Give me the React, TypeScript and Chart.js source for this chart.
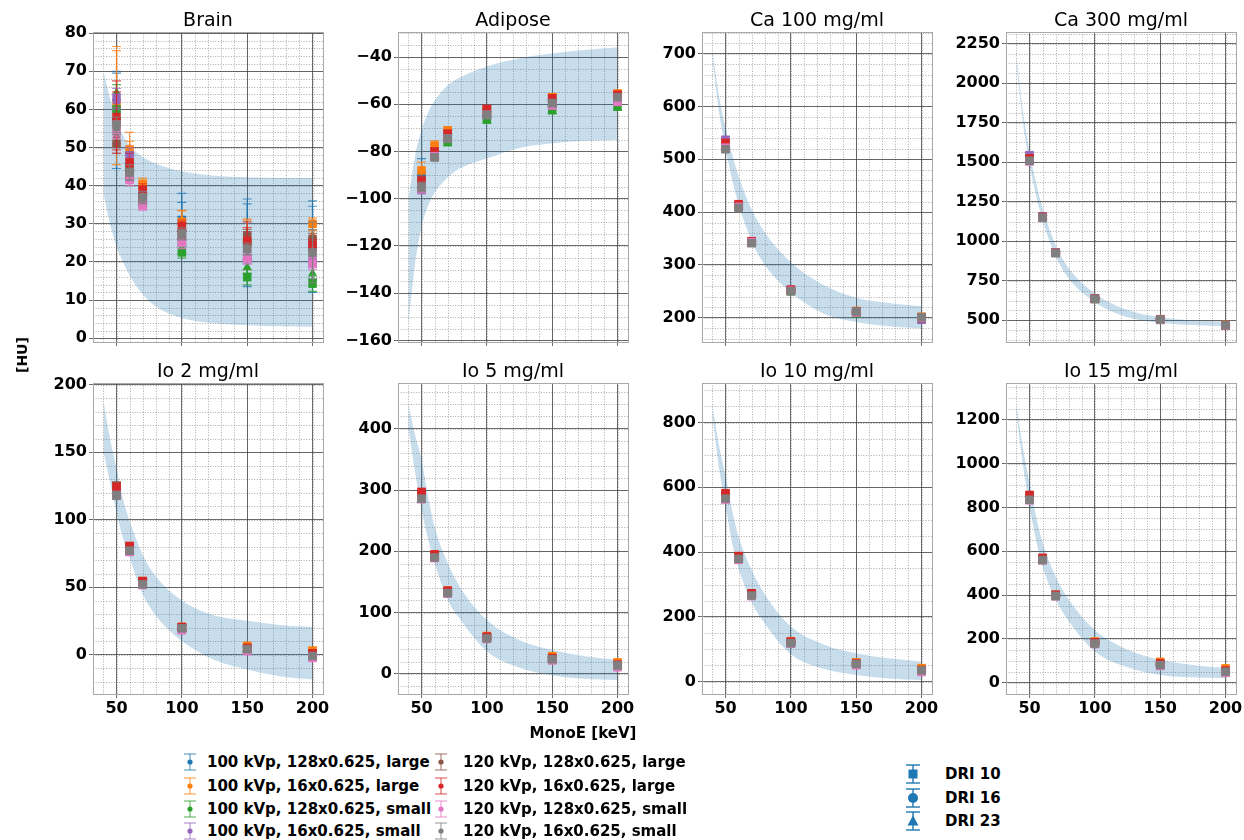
import React, { useEffect, useRef } from "react";
import { Chart, registerables } from "chart.js";

Chart.register(...registerables);
Chart.defaults.font.family = "DejaVu Sans";

// ---------- shared data ----------
const energies = [50, 60, 70, 100, 150, 200];
const bandX = [40, 45, 50, 55, 60, 70, 80, 100, 125, 150, 175, 200];
const xTicks = [50, 100, 150, 200];

const seriesLabels = [
  "100 kVp, 128x0.625, large",
  "100 kVp, 16x0.625, large",
  "100 kVp, 128x0.625, small",
  "100 kVp, 16x0.625, small",
  "120 kVp, 128x0.625, large",
  "120 kVp, 16x0.625, large",
  "120 kVp, 128x0.625, small",
  "120 kVp, 16x0.625, small",
];
const seriesColors = ["#1f77b4", "#ff7f0e", "#2ca02c", "#9467bd", "#8c564b", "#d62728", "#e377c2", "#7f7f7f"];
const driLabels = ["DRI 10", "DRI 16", "DRI 23"];

// ---------- Brain ----------
const brainSquares = [
  [57, 45, 37, 31, 25, 24],
  [61, 49.5, 40.5, 30.5, 24.5, 30],
  [60, 44, 36, 22.5, 16, 14.3],
  [63, 48, 36.5, 27, 21, 20],
  [51, 42, 36, 26.5, 27, 26],
  [58, 46, 39, 29.5, 25.5, 24.5],
  [55, 41.5, 35, 25, 21, 19.5],
  [56, 43.5, 37, 27.5, 23.5, 22.5],
];
const brainTriangles = [
  [60, 46, 38, 30, 26, 25],
  [63, 48, 40, 31, 26, 27],
  [64.5, 45, 37, 23.5, 18.7, 17],
  [62, 47, 37, 27, 22, 21],
  [53, 43, 36, 27, 26, 25],
  [57, 45, 38, 29, 25, 24],
  [54, 42, 35, 25.5, 21.5, 20],
  [55, 43, 36.5, 27, 23, 22],
];
const brainErrors = [
  [12.5, 3, 2, 7, 11.5, 12],
  [15.5, 4.5, 1.5, 3, 6.5, 1.5],
  [2.5, 2, 1.5, 1.5, 2, 2],
  [2.5, 2, 1.5, 1.5, 1.5, 1.5],
  [2.5, 2, 1.5, 1.5, 1.5, 1.5],
  [9.5, 2.5, 1.5, 1.5, 5, 1.5],
  [2, 1.5, 1.5, 1.5, 1.5, 1.5],
  [2, 2, 1.5, 1.5, 1.5, 8],
];
const brainUpper = [70, 63, 57, 53, 50.5, 47.5, 45.8, 43.8, 42.6, 42.2, 42, 42];
const brainLower = [38, 30, 24, 20, 16.5, 11.5, 8.3, 5.3, 3.9, 3.4, 3.1, 3];
const brainTicks = [0, 10, 20, 30, 40, 50, 60, 70, 80];

// ---------- Adipose ----------
const adiposeSquares = [
  [-90, -80, -73, -63, -58.5, -57],
  [-88, -77.5, -71, -62.5, -57, -55.5],
  [-95, -81.5, -76, -66.5, -62.5, -61],
  [-96, -81, -74.5, -64.5, -60, -58.5],
  [-94, -81.5, -74, -63.5, -59, -57],
  [-92.5, -80, -72.5, -62, -57.5, -56],
  [-95.5, -82, -74.5, -64.5, -60.5, -59],
  [-95, -82.5, -74.5, -64.5, -59.5, -57],
];
const adiposeErrors = [
  [7, 3, 2, 2, 2, 2],
  [3.5, 2, 1.5, 1.5, 1.5, 1.5],
  [2, 1.5, 1.5, 1.5, 1.5, 1.5],
  [2, 1.5, 1.5, 1.5, 1.5, 1.5],
  [2, 1.5, 1.5, 1.5, 1.5, 1.5],
  [2, 1.5, 1.5, 1.5, 1.5, 1.5],
  [2, 1.5, 1.5, 1.5, 1.5, 1.5],
  [2, 1.5, 1.5, 1.5, 1.5, 1.5],
];
const adiposeUpper = [-100, -82, -71, -63.5, -58.5, -52, -48.5, -44, -40.5, -38.5, -37, -36];
const adiposeLower = [-153, -128, -112, -103, -97.5, -91, -87, -83, -78.5, -76.5, -75.5, -75];
const adiposeTicks = [-160, -140, -120, -100, -80, -60, -40];

// ---------- Ca 100 mg/ml ----------
const ca100Squares = [
  [528, 412, 343, 252, 210, 199],
  [530, 413, 344, 253, 213, 202],
  [525, 411, 342, 250, 208, 199],
  [537, 413, 344, 253, 211, 196],
  [523, 410, 342, 251, 210, 199],
  [531, 415, 345, 253, 212, 201],
  [522, 410, 343, 251, 210, 200],
  [519, 408, 341, 250, 212, 201],
];
const ca100Errors = [6, 4, 3, 3, 3, 3];
const ca100Upper = [705, 620, 560, 510, 468, 405, 362, 305, 262, 238, 228, 222];
const ca100Lower = [690, 590, 520, 462, 415, 345, 300, 248, 208, 192, 184, 180];
const ca100Ticks = [200, 300, 400, 500, 600, 700];

// ---------- Ca 300 mg/ml ----------
const ca300Squares = [
  [1520, 1152, 928, 637, 505, 470],
  [1515, 1150, 930, 640, 508, 472],
  [1510, 1148, 926, 635, 503, 468],
  [1545, 1158, 930, 638, 505, 468],
  [1512, 1150, 927, 636, 504, 469],
  [1525, 1155, 930, 638, 506, 470],
  [1505, 1148, 926, 635, 503, 468],
  [1510, 1150, 927, 636, 505, 470],
];
const ca300Errors = [18, 12, 8, 6, 6, 6];
const ca300Upper = [2170, 1820, 1570, 1370, 1210, 975, 830, 670, 565, 520, 500, 492];
const ca300Lower = [2120, 1750, 1490, 1290, 1130, 905, 765, 615, 520, 485, 470, 462];
const ca300Ticks = [500, 750, 1000, 1250, 1500, 1750, 2000, 2250];

// ---------- Io 2 mg/ml ----------
const io2Squares = [
  [120, 78, 53, 19.5, 4, 0],
  [124, 80, 54.5, 20.5, 6.5, 3],
  [119, 77, 52.5, 19, 3.5, -1],
  [121, 78, 53, 20, 4.5, 0.5],
  [125, 79, 54, 20, 4, 0],
  [124, 80.5, 54.5, 20.5, 5, 1],
  [118, 76, 51.5, 18, 2.5, -2.5],
  [118, 77, 52, 19.5, 4, -1],
];
const io2Errors = [3, 2.5, 2, 2, 2, 2];
const io2Upper = [188, 160, 138, 115, 99, 74, 58, 40, 29, 25, 22, 20.5];
const io2Lower = [150, 128, 105, 86, 72, 45, 29, 10, -4, -11, -16, -18.5];
const io2Ticks = [0, 50, 100, 150, 200];

// ---------- Io 5 mg/ml ----------
const io5Squares = [
  [290, 192, 133, 59, 24, 14],
  [293, 195, 136, 62, 29, 19],
  [288, 191, 132, 58, 23, 13],
  [291, 193, 134, 60, 25, 15],
  [292, 193, 134, 60, 24, 14],
  [297, 195, 136, 61, 26, 15],
  [285, 189, 131, 57, 22, 11],
  [286, 190, 132, 58, 24, 14],
];
const io5Errors = [5, 4, 3, 3, 3, 3];
const io5Upper = [440, 390, 350, 290, 240, 181, 140, 88, 55, 39, 29, 23];
const io5Lower = [400, 330, 268, 220, 181, 121, 88, 37, 10, -2, -8, -10];
const io5Ticks = [0, 100, 200, 300, 400];

// ---------- Io 10 mg/ml ----------
const io10Squares = [
  [570, 382, 268, 120, 55, 35],
  [575, 386, 272, 125, 60, 42],
  [565, 379, 266, 118, 53, 33],
  [572, 383, 269, 121, 55, 34],
  [573, 384, 270, 121, 55, 35],
  [582, 388, 273, 124, 57, 36],
  [562, 376, 264, 117, 51, 30],
  [565, 379, 266, 119, 55, 35],
];
const io10Errors = [8, 6, 5, 4, 4, 4];
const io10Upper = [850, 730, 635, 530, 448, 345, 270, 170, 115, 88, 72, 62];
const io10Lower = [820, 660, 545, 430, 350, 245, 180, 85, 40, 21, 10, 5];
const io10Ticks = [0, 200, 400, 600, 800];

// ---------- Io 15 mg/ml ----------
const io15Squares = [
  [840, 563, 397, 180, 82, 52],
  [848, 568, 400, 188, 95, 65],
  [835, 560, 395, 178, 78, 48],
  [842, 564, 398, 181, 84, 50],
  [845, 566, 398, 182, 85, 52],
  [857, 570, 402, 184, 88, 55],
  [832, 558, 394, 176, 76, 45],
  [835, 560, 396, 178, 80, 50],
];
const io15Errors = [12, 8, 6, 5, 5, 5];
const io15Upper = [1270, 1070, 915, 760, 640, 485, 380, 240, 150, 104, 80, 66];
const io15Lower = [1230, 990, 805, 650, 530, 378, 280, 142, 70, 35, 24, 20];
const io15Ticks = [0, 200, 400, 600, 800, 1000, 1200];

// ---------- layout ----------
const COL_LEFT = [93, 398, 702, 1006];
const ROW_TOP = [32, 383];
const ROW_PLOT_H = [310, 311];
const PLOT_W = 230;
const Y_AXIS_W = 70;
const TITLE_H = 20;
const PAD_RIGHT = 10;
const X_AXIS_H = [6, 30];
const PAD_BOTTOM = [6, 0];

const BAND = "rgba(31,119,180,0.25)";
const MAJOR = "rgba(70,70,70,0.8)";

type PanelCfg = {
  title: string;
  sq: number[][];
  tri?: number[][];
  err: number[][] | number[];
  up: number[];
  lo: number[];
  yMin: number;
  yMax: number;
  yTicks: number[];
  yMinor: number;
  row: number;
  col: number;
};

const panels: PanelCfg[] = [
  { title: "Brain", sq: brainSquares, tri: brainTriangles, err: brainErrors, up: brainUpper, lo: brainLower, yMin: -1, yMax: 80.3, yTicks: brainTicks, yMinor: 2, row: 0, col: 0 },
  { title: "Adipose", sq: adiposeSquares, err: adiposeErrors, up: adiposeUpper, lo: adiposeLower, yMin: -160.7, yMax: -29.4, yTicks: adiposeTicks, yMinor: 5, row: 0, col: 1 },
  { title: "Ca 100 mg/ml", sq: ca100Squares, err: ca100Errors, up: ca100Upper, lo: ca100Lower, yMin: 154, yMax: 741, yTicks: ca100Ticks, yMinor: 20, row: 0, col: 2 },
  { title: "Ca 300 mg/ml", sq: ca300Squares, err: ca300Errors, up: ca300Upper, lo: ca300Lower, yMin: 363, yMax: 2324, yTicks: ca300Ticks, yMinor: 62.5, row: 0, col: 3 },
  { title: "Io 2 mg/ml", sq: io2Squares, err: io2Errors, up: io2Upper, lo: io2Lower, yMin: -29.2, yMax: 201.2, yTicks: io2Ticks, yMinor: 10, row: 1, col: 0 },
  { title: "Io 5 mg/ml", sq: io5Squares, err: io5Errors, up: io5Upper, lo: io5Lower, yMin: -32.7, yMax: 474.6, yTicks: io5Ticks, yMinor: 20, row: 1, col: 1 },
  { title: "Io 10 mg/ml", sq: io10Squares, err: io10Errors, up: io10Upper, lo: io10Lower, yMin: -38, yMax: 922, yTicks: io10Ticks, yMinor: 50, row: 1, col: 2 },
  { title: "Io 15 mg/ml", sq: io15Squares, err: io15Errors, up: io15Upper, lo: io15Lower, yMin: -52, yMax: 1368, yTicks: io15Ticks, yMinor: 50, row: 1, col: 3 },
];

function errorFor(err: number[][] | number[], i: number, j: number): number {
  const first = (err as any)[0];
  return Array.isArray(first) ? (err as number[][])[i][j] : (err as number[])[j];
}

function hexA(hex: string, a: number) {
  const r = parseInt(hex.slice(1, 3), 16), g = parseInt(hex.slice(3, 5), 16), b = parseInt(hex.slice(5, 7), 16);
  return `rgba(${r},${g},${b},${a})`;
}

const fmt = (v: number) => (v < 0 ? "\u2212" + Math.abs(v) : String(v));

// ---------- plugins ----------
const minorGridPlugin = {
  id: "minorGrid",
  beforeDraw(chart: any, _args: any, opts: any) {
    const { ctx, chartArea: a, scales } = chart;
    const xs = scales.x, ys = scales.y;
    ctx.save();
    ctx.beginPath();
    ctx.rect(a.left, a.top, a.right - a.left, a.bottom - a.top);
    ctx.clip();
    ctx.strokeStyle = "rgba(140,140,140,0.9)";
    ctx.lineWidth = 0.8;
    ctx.setLineDash([1, 1.6]);
    const xStep = opts.xStep, yStep = opts.yStep;
    for (let v = Math.ceil(xs.min / xStep) * xStep; v <= xs.max; v += xStep) {
      const p = Math.round(xs.getPixelForValue(v)) + 0.5;
      ctx.beginPath();
      ctx.moveTo(p, a.top);
      ctx.lineTo(p, a.bottom);
      ctx.stroke();
    }
    for (let v = Math.ceil(ys.min / yStep) * yStep; v <= ys.max; v += yStep) {
      const p = Math.round(ys.getPixelForValue(v)) + 0.5;
      ctx.beginPath();
      ctx.moveTo(a.left, p);
      ctx.lineTo(a.right, p);
      ctx.stroke();
    }
    ctx.restore();
  },
};

const errorBarPlugin = {
  id: "errorBars",
  beforeDatasetDraw(chart: any, args: any) {
    const ds: any = chart.data.datasets[args.index];
    if (!ds.errorBars) return;
    const { ctx, chartArea: a } = chart;
    const xs = chart.scales.x, ys = chart.scales.y;
    ctx.save();
    ctx.beginPath();
    ctx.rect(a.left, a.top, a.right - a.left, a.bottom - a.top);
    ctx.clip();
    ctx.strokeStyle = ds.errorColor;
    ctx.lineWidth = 1.2;
    ds.data.forEach((p: any, j: number) => {
      const e = ds.errorBars[j];
      const px = xs.getPixelForValue(p.x);
      const y1 = ys.getPixelForValue(p.y + e);
      const y2 = ys.getPixelForValue(p.y - e);
      ctx.beginPath();
      ctx.moveTo(px, y1);
      ctx.lineTo(px, y2);
      ctx.moveTo(px - 4.5, y1);
      ctx.lineTo(px + 4.5, y1);
      ctx.moveTo(px - 4.5, y2);
      ctx.lineTo(px + 4.5, y2);
      ctx.stroke();
    });
    ctx.restore();
  },
};

const framePlugin = {
  id: "frame",
  afterDraw(chart: any) {
    const { ctx, chartArea: a } = chart;
    ctx.save();
    ctx.strokeStyle = "#a8a8a8";
    ctx.lineWidth = 1;
    ctx.strokeRect(Math.round(a.left) + 0.5, Math.round(a.top) + 0.5, Math.round(a.right - a.left), Math.round(a.bottom - a.top));
    ctx.restore();
  },
};

// ---------- panel component ----------
function Panel({ cfg }: { cfg: PanelCfg }) {
  const ref = useRef<HTMLCanvasElement>(null);
  const W = Y_AXIS_W + PLOT_W + PAD_RIGHT;
  const H = TITLE_H + ROW_PLOT_H[cfg.row] + X_AXIS_H[cfg.row] + PAD_BOTTOM[cfg.row];
  const left = COL_LEFT[cfg.col] - Y_AXIS_W;
  const top = ROW_TOP[cfg.row] - TITLE_H;

  useEffect(() => {
    const datasets: any[] = [
      {
        type: "line",
        data: bandX.map((x, k) => ({ x, y: cfg.up[k] })),
        borderColor: "transparent",
        borderWidth: 0,
        pointRadius: 0,
        fill: false,
        cubicInterpolationMode: "monotone",
        order: 100,
      },
      {
        type: "line",
        data: bandX.map((x, k) => ({ x, y: cfg.lo[k] })),
        borderColor: "transparent",
        borderWidth: 0,
        pointRadius: 0,
        fill: "-1",
        backgroundColor: BAND,
        cubicInterpolationMode: "monotone",
        order: 99,
      },
    ];
    cfg.sq.forEach((vals, i) => {
      const c = seriesColors[i];
      datasets.push({
        type: "scatter",
        label: seriesLabels[i],
        data: energies.map((x, j) => ({ x, y: vals[j] })),
        pointStyle: "rect",
        pointRadius: 6,
        pointBackgroundColor: c,
        pointBorderWidth: 0,
        borderColor: c,
        showLine: false,
        errorBars: energies.map((_, j) => errorFor(cfg.err, i, j)),
        errorColor: hexA(c, 0.75),
        order: 50 - i * 2,
      });
      if (cfg.tri) {
        const t = cfg.tri[i];
        datasets.push({
          type: "scatter",
          label: seriesLabels[i] + " DRI 23",
          data: energies.map((x, j) => ({ x, y: t[j] })),
          pointStyle: "triangle",
          pointRadius: 5,
          pointBackgroundColor: c,
          pointBorderWidth: 0,
          borderColor: c,
          showLine: false,
          errorBars: energies.map((_, j) => errorFor(cfg.err, i, j) * 0.8),
          errorColor: hexA(c, 0.75),
          order: 49 - i * 2,
        });
      }
    });

    const tickFont = { family: "DejaVu Sans", size: 16, weight: "bold" as const };
    const chart = new Chart(ref.current as HTMLCanvasElement, {
      type: "scatter",
      data: { datasets },
      options: {
        responsive: false,
        animation: false,
        devicePixelRatio: 1,
        events: [],
        layout: { padding: { top: 0, left: 0, right: PAD_RIGHT, bottom: PAD_BOTTOM[cfg.row] } },
        plugins: {
          legend: { display: false },
          tooltip: { enabled: false },
          title: {
            display: true,
            fullSize: false,
            text: cfg.title,
            color: "#000",
            font: { family: "DejaVu Sans", size: 19, weight: "normal", lineHeight: 1 },
            padding: { top: 0, bottom: 1 },
          },
          minorGrid: { xStep: 10, yStep: cfg.yMinor },
        } as any,
        scales: {
          x: {
            type: "linear",
            min: 32,
            max: 208,
            afterBuildTicks: (s: any) => {
              s.ticks = xTicks.map((v) => ({ value: v }));
            },
            afterFit: (s: any) => {
              s.height = X_AXIS_H[cfg.row];
            },
            grid: { color: MAJOR, lineWidth: 1, drawTicks: true, tickLength: 4, tickColor: MAJOR },
            border: { display: false },
            ticks: {
              display: cfg.row === 1,
              color: "#000",
              font: tickFont,
              padding: 1,
              autoSkip: false,
              maxRotation: 0,
              callback: (v: any) => fmt(Number(v)),
            },
          },
          y: {
            type: "linear",
            min: cfg.yMin,
            max: cfg.yMax,
            afterBuildTicks: (s: any) => {
              s.ticks = cfg.yTicks.map((v) => ({ value: v }));
            },
            afterFit: (s: any) => {
              s.width = Y_AXIS_W;
            },
            grid: { color: MAJOR, lineWidth: 1, drawTicks: true, tickLength: 4, tickColor: MAJOR },
            border: { display: false },
            ticks: {
              color: "#000",
              font: tickFont,
              padding: 2,
              autoSkip: false,
              callback: (v: any) => fmt(Number(v)),
            },
          },
        },
      } as any,
      plugins: [minorGridPlugin, errorBarPlugin, framePlugin],
    });
    return () => chart.destroy();
  }, []);

  return (
    <canvas
      ref={ref}
      width={W}
      height={H}
      style={{ position: "absolute", left, top, width: W, height: H }}
    />
  );
}

// ---------- legend glyphs ----------
function SeriesGlyph({ color }: { color: string }) {
  const lc = hexA(color, 0.7);
  return (
    <svg width={18} height={20} style={{ display: "block" }}>
      <line x1={9} y1={2} x2={9} y2={18} stroke={lc} strokeWidth={1.2} />
      <line x1={3} y1={2} x2={15} y2={2} stroke={lc} strokeWidth={1.2} />
      <line x1={3} y1={18} x2={15} y2={18} stroke={lc} strokeWidth={1.2} />
      <circle cx={9} cy={10} r={2.6} fill={color} />
    </svg>
  );
}

function DriGlyph({ shape }: { shape: number }) {
  const c = "#1f77b4";
  return (
    <svg width={20} height={22} style={{ display: "block" }}>
      <line x1={10} y1={2} x2={10} y2={20} stroke={c} strokeWidth={1.4} />
      <line x1={3} y1={2} x2={17} y2={2} stroke={c} strokeWidth={1.4} />
      <line x1={3} y1={20} x2={17} y2={20} stroke={c} strokeWidth={1.4} />
      {shape === 0 && <rect x={5.5} y={6.5} width={9} height={9} fill={c} />}
      {shape === 1 && <circle cx={10} cy={11} r={5} fill={c} />}
      {shape === 2 && <polygon points="10,5.5 15.5,15.5 4.5,15.5" fill={c} />}
    </svg>
  );
}

const legendText: React.CSSProperties = {
  position: "absolute",
  fontFamily: "DejaVu Sans",
  fontWeight: "bold",
  fontSize: 15,
  lineHeight: "18px",
  color: "#000",
  whiteSpace: "nowrap",
};

const LEG_ROWS = [762, 786, 809, 831];
const LEG_COLS = [
  { glyph: 190, text: 207 },
  { glyph: 441, text: 463 },
];
const DRI_ROWS = [774, 798, 821];

export default function App() {
  return (
    <div
      style={{
        position: "absolute",
        left: 0,
        top: 0,
        width: 1244,
        height: 840,
        background: "#fff",
        overflow: "hidden",
      }}
    >
      {panels.map((p) => (
        <Panel key={p.title} cfg={p} />
      ))}

      <div
        style={{
          ...legendText,
          fontSize: 14,
          left: 22,
          top: 355,
          transform: "translate(-50%, -50%) rotate(-90deg)",
        }}
      >
        [HU]
      </div>
      <div style={{ ...legendText, fontSize: 15, left: 583, top: 733, transform: "translate(-50%, -50%)" }}>
        MonoE [keV]
      </div>

      {seriesLabels.map((lab, i) => {
        const col = LEG_COLS[Math.floor(i / 4)];
        const cy = LEG_ROWS[i % 4];
        return (
          <React.Fragment key={lab}>
            <div style={{ position: "absolute", left: col.glyph - 9, top: cy - 10 }}>
              <SeriesGlyph color={seriesColors[i]} />
            </div>
            <div style={{ ...legendText, left: col.text, top: cy - 9 }}>{lab}</div>
          </React.Fragment>
        );
      })}

      {driLabels.map((lab, i) => (
        <React.Fragment key={lab}>
          <div style={{ position: "absolute", left: 913 - 10, top: DRI_ROWS[i] - 11 }}>
            <DriGlyph shape={i} />
          </div>
          <div style={{ ...legendText, left: 945, top: DRI_ROWS[i] - 9 }}>{lab}</div>
        </React.Fragment>
      ))}
    </div>
  );
}
